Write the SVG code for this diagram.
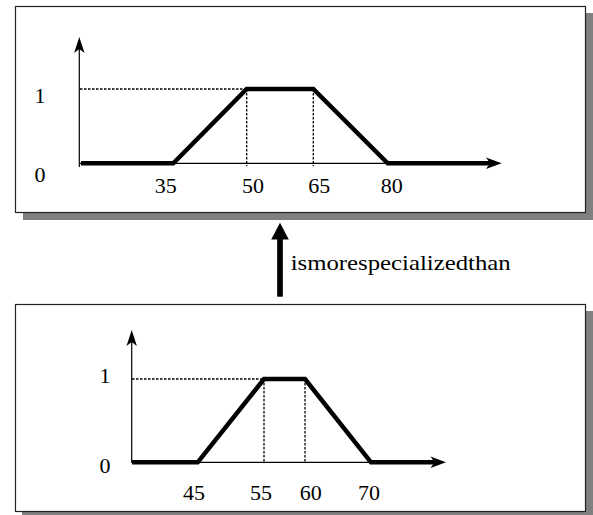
<svg xmlns="http://www.w3.org/2000/svg" width="593" height="515" viewBox="0 0 593 515">
<style>
.frame{fill:#fff;stroke:#222;stroke-width:1.2}
.shadow{fill:#808080}
.axis{stroke:#000;stroke-width:1.2;fill:none}
.curve{stroke:#000;stroke-width:4.5;fill:none;stroke-linejoin:miter}
.dot{stroke:#000;stroke-width:1.3;stroke-dasharray:2.5,1.5;fill:none}
.head{fill:#000}
</style>
<rect width="593" height="515" fill="#fff"/>
<g id="top-panel">
  <rect class="shadow" x="23" y="13" width="570" height="207"/>
  <rect class="frame" x="15.5" y="6.5" width="570" height="206"/>
  <line class="dot" x1="80" y1="89" x2="246.7" y2="89"/>
  <line class="dot" x1="246.7" y1="89" x2="246.7" y2="166"/>
  <line class="dot" x1="313.3" y1="89" x2="313.3" y2="166"/>
  <line class="axis" x1="79.3" y1="167" x2="79.3" y2="45"/>
  <path class="head" d="M79.3,37 L84.5,53 L79.3,49 L74.1,53 Z"/>
  <line class="axis" x1="80" y1="163.3" x2="492" y2="163.3"/>
  <path class="curve" d="M81,163.3 L173.3,163.3 L246.7,89 L313.3,89 L387.7,163.3 L492,163.3"/>
  <path class="head" d="M501.7,163.3 L486,157.5 L490,163.3 L486,169.1 Z"/>
  <g font-family="Liberation Serif, Times New Roman, serif" font-size="22" fill="#000" text-anchor="middle">
    <text x="40" y="103">1</text>
    <text x="40" y="181.7">0</text>
    <text x="165.7" y="193">35</text>
    <text x="253" y="193">50</text>
    <text x="319.3" y="193">65</text>
    <text x="391.7" y="193">80</text>
  </g>
</g>
<g id="bottom-panel">
  <rect class="shadow" x="22" y="311" width="571" height="204"/>
  <rect class="frame" x="15.5" y="304.5" width="570" height="207"/>
  <line class="dot" x1="132" y1="379" x2="264" y2="379"/>
  <line class="dot" x1="264" y1="379" x2="264" y2="462"/>
  <line class="dot" x1="305" y1="379" x2="305" y2="462"/>
  <line class="axis" x1="131.7" y1="463" x2="131.7" y2="338"/>
  <path class="head" d="M131.7,330 L136.9,346 L131.7,342 L126.5,346 Z"/>
  <line class="axis" x1="132" y1="462.3" x2="437" y2="462.3"/>
  <path class="curve" d="M132,462.3 L197.7,462.3 L264,379 L305,379 L371,462.3 L437,462.3"/>
  <path class="head" d="M446,462.3 L430.5,456.5 L434.5,462.3 L430.5,468.1 Z"/>
  <g font-family="Liberation Serif, Times New Roman, serif" font-size="22" fill="#000" text-anchor="middle">
    <text x="105" y="383.3">1</text>
    <text x="105" y="473.3">0</text>
    <text x="194" y="500">45</text>
    <text x="261" y="500">55</text>
    <text x="310.7" y="500">60</text>
    <text x="369" y="500">70</text>
  </g>
</g>
<g id="connectors">
  <line x1="280" y1="296.7" x2="280" y2="236" stroke="#000" stroke-width="5.7"/>
  <path class="head" d="M280,222.7 L288.8,239.4 L271.2,239.4 Z"/>
  <text x="290.7" y="270" font-family="Liberation Serif, Times New Roman, serif" font-size="21" fill="#000" textLength="220" lengthAdjust="spacingAndGlyphs">ismorespecializedthan</text>
</g>
</svg>
